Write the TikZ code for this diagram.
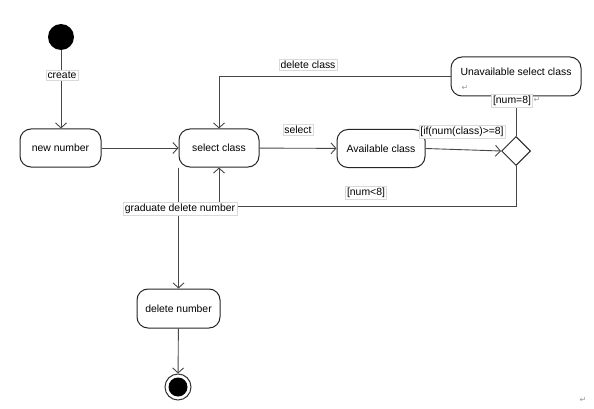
\documentclass[tikz,border=0pt]{standalone}
\usepackage{fontspec}
\setmainfont{Liberation Sans}
\newfontfamily\symfont{DejaVu Sans}
\usetikzlibrary{shapes.geometric,arrows.meta}
\begin{document}
\begin{tikzpicture}[x=1pt,y=-1pt,
  line/.style={draw=black!72, line width=0.9pt, -{Straight Barb[length=5pt,width=11pt,line width=0.9pt]}},
  state/.style={draw=black!85, line width=1pt, rounded corners=11pt, minimum height=38pt, font=\fontsize{10.4}{12}\selectfont, inner sep=0pt},
  lbl/.style={fill=white, draw=black!15, line width=0.4pt, inner sep=1.5pt, font=\fontsize{10.4}{12}\selectfont},
  ret/.style={text=black!40, inner sep=0pt, font=\symfont\fontsize{8}{9}\selectfont}
]
\useasboundingbox[fill=white] (0,0) rectangle (594,409);

% states
\node[circle, fill=black, minimum size=26pt, inner sep=0pt] (init) at (61,37) {};
\node[state, minimum width=81pt] (new) at (60.5,148) {new number};
\node[state, minimum width=80pt] (sel) at (219,148) {select class};
\node[state, minimum width=88pt] (avail) at (381,148.5) {Available class};
\node[state, minimum width=130pt, minimum height=39pt, text depth=10pt] (unav) at (516,76.5) {Unavailable select class};
\node[ret] (unavret) at (465,88) {↵};
\node[diamond, draw=black!85, line width=1pt, minimum width=29pt, minimum height=29pt, inner sep=0pt] (dec) at (516,151) {};
\node[state, minimum width=83pt, minimum height=39pt] (del) at (178.5,308.5) {delete number};
\node[circle, draw=black!80, line width=1pt, minimum size=26pt, inner sep=0pt] (fin) at (178,387) {};
\node[circle, fill=black, minimum size=19pt, inner sep=0pt] (fincore) at (fin) {};

\coordinate (lp) at (219,206);

% connectors
\draw[line] (init.south) -- (init.south |- new.north);
\draw[line] (new) -- (sel);
\draw[line] (sel) -- (avail);
\draw[line] (avail.east) -- (dec.west);
\draw[line] (dec.north) -- (unav.south);
\draw[line] (unav.west) -| (sel.north);
\draw[line] (dec.south) |- (lp) -- (sel.south);
\draw[line] (sel.south west) -- (sel.south west |- del.north);
\draw[line] (del) -- (fin);

% labels
\node[lbl] (lcreate) at (62,75) {create};
\node[lbl] (ldelc) at (308,65) {delete class};
\node[lbl] (lselect) at (298,130) {select};
\node[lbl] (lif) at (462,132) {[if(num(class)>=8]};
\node[lbl] (lnum8) at (512,101) {[num=8]};
\node[ret] (num8ret) at (537,100) {↵};
\node[lbl] (lnumlt) at (366,193) {[num<8]};
\node[lbl] (lgrad) at (180,209) {graduate delete number};
\node[ret] (pageret) at (583,400) {↵};
\end{tikzpicture}
\end{document}
